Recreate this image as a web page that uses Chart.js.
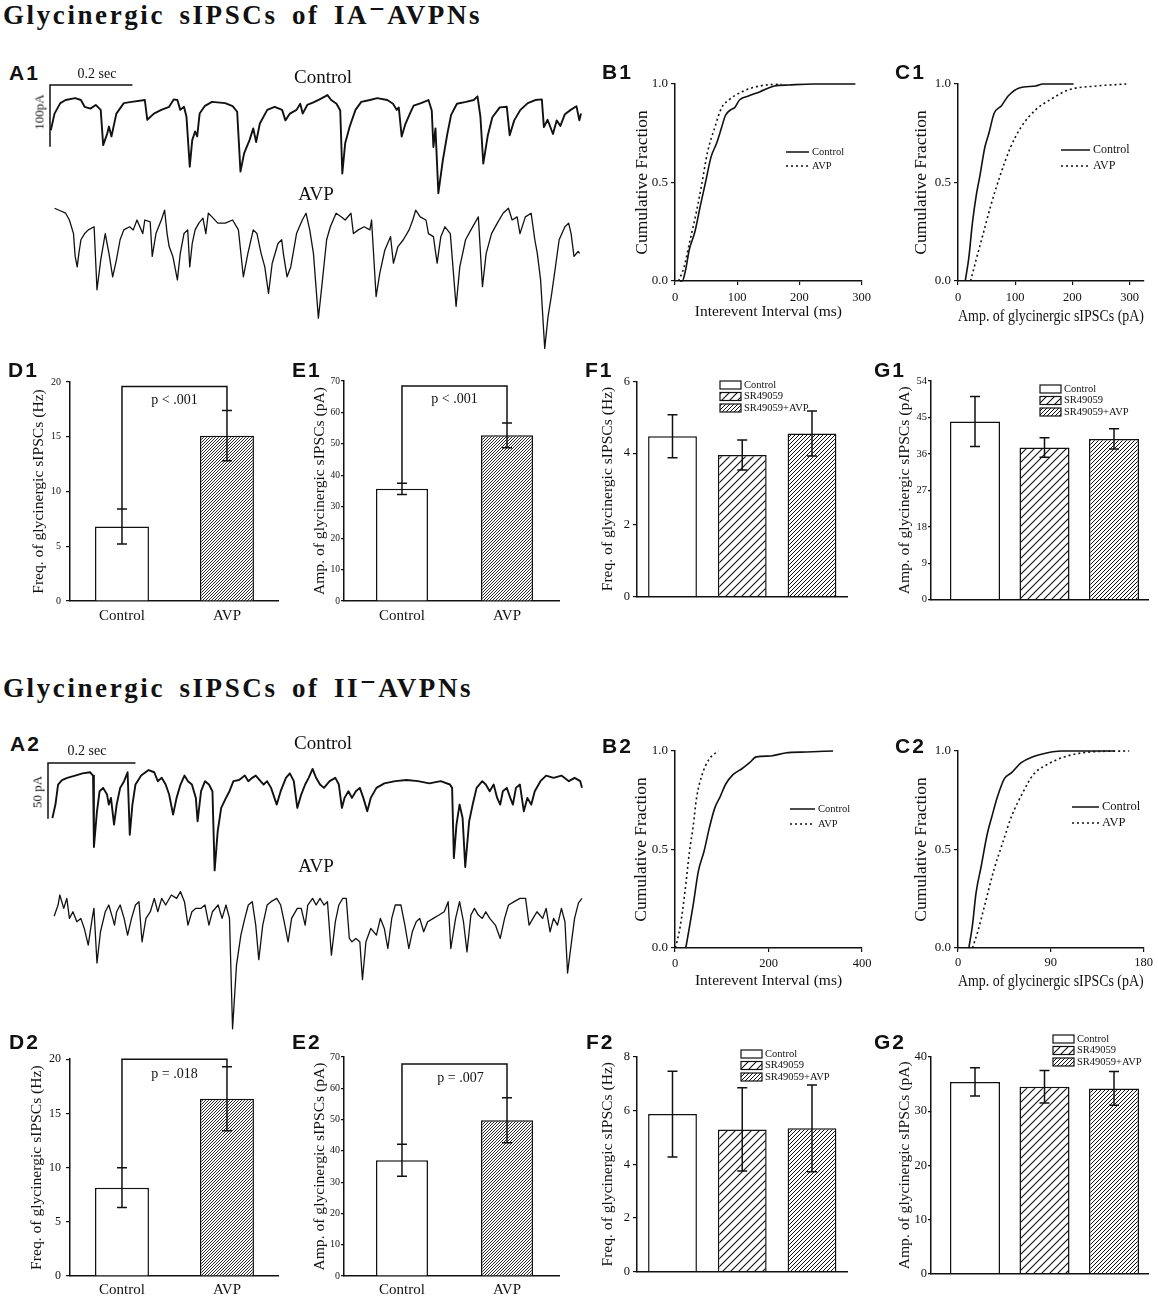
<!DOCTYPE html>
<html>
<head>
<meta charset="utf-8">
<script src="https://cdn.jsdelivr.net/npm/chart.js@4.4.1/dist/chart.umd.min.js"></script>
<style>
  body { margin: 0; background: #fff; }
  #fig { position: relative; width: 1158px; height: 1300px; overflow: hidden; color: #111;
         font-family: "Liberation Serif", "Times New Roman", serif; }
  #fig canvas { position: absolute; }
  .t { position: absolute; white-space: nowrap; line-height: 1; }
  .head { font-weight: bold; font-size: 27px; letter-spacing: 2.6px; word-spacing: 5px; }
  .head span { position: relative; top: -6px; }
  .tag { font-family: "Liberation Sans", Arial, sans-serif; font-weight: bold; font-size: 21px; letter-spacing: 2px; }
</style>
</head>
<body>
<div id="fig"></div>
<script>
// Trace samples (ms, pA)
const a1CtrlT = [0,9,23,36,59,73,82,96,109,121,127,137,141,147,159,177,196,228,234,250,268,287,298,307,314,323,329,337,343,350,355,361,373,391,423,441,452,460,469,482,491,498,507,525,543,561,569,580,596,605,611,622,637,652,671,680,693,702,707,714,725,739,753,774,792,816,830,839,844,851,860,871,880,898,916,924,928,933,940,951,962,971,985,1007,1026,1035,1042,1049,1060,1071,1089,1106,1113,1124,1139,1157,1175,1191,1196,1205,1218,1227,1236,1247,1261,1275,1282,1286]
const a1CtrlI = [-49,-22,-5,0,3,0,-11,-14,-8,-16,-73,-54,-43,-59,-22,-5,-3,0,-32,-22,-16,-11,1,0,-16,-11,-27,-108,-65,-51,-59,-22,-10,-3,-5,-10,-19,-116,-86,-65,-46,-68,-38,-16,-11,-16,-33,-22,-16,-6,-22,-8,-4,1,8,0,-6,-17,-119,-70,-43,-16,-3,0,3,0,-6,-16,-12,-59,-39,-22,-9,-5,0,-17,-76,-46,-151,-97,-54,-24,-6,-3,0,6,-27,-103,-57,-28,-12,-11,-57,-33,-16,-5,0,1,-44,-32,-55,-33,-42,-23,-16,-10,-33,-22]
const a1AvpT = [9,23,36,45,55,59,64,68,73,82,91,105,112,121,132,141,150,159,168,177,191,200,209,223,228,241,246,255,268,276,282,287,296,307,314,323,332,337,343,350,359,369,376,382,391,405,423,441,455,467,478,491,500,510,519,528,537,551,560,564,573,582,596,610,619,628,637,649,658,669,678,692,705,714,728,734,746,760,774,778,789,798,810,824,831,842,855,869,878,885,896,910,916,928,937,946,956,969,983,992,1006,1019,1037,1047,1056,1069,1083,1097,1110,1119,1131,1138,1151,1165,1174,1180,1188,1198,1206,1215,1224,1233,1247,1256,1262,1269,1279,1283]
const a1AvpI = [0,-4,-8,-19,-41,-78,-95,-73,-51,-41,-35,-30,-132,-84,-41,-73,-111,-84,-51,-35,-30,-35,-19,-41,-19,-22,-78,-41,-19,-3,-41,-62,-78,-116,-73,-41,-35,-95,-57,-35,-24,-16,-41,-8,-14,-24,-24,-19,-35,-111,-73,-35,-41,-73,-95,-138,-89,-57,-51,-73,-111,-95,-41,-19,-8,-35,-73,-178,-122,-51,-30,-8,-14,-19,-8,-41,-35,-30,-35,-19,-143,-105,-68,-46,-89,-62,-51,-35,-19,-3,-14,-19,-41,-46,-89,-46,-30,-41,-159,-95,-51,-35,-14,-127,-73,-41,-24,-8,0,-19,-14,-41,-14,-8,-51,-73,-116,-227,-176,-138,-95,-51,-30,-24,-41,-78,-70,-73]
const a2CtrlT = [0,7,13,22,34,52,69,86,93,95,102,108,116,125,129,134,141,147,155,164,172,177,183,190,203,220,233,241,250,259,267,276,284,293,302,310,319,328,332,340,349,358,366,371,378,386,397,405,414,427,440,448,457,465,474,483,491,500,513,522,534,543,552,560,569,578,586,595,603,612,621,634,647,655,662,668,677,685,694,703,711,720,728,741,759,784,810,836,862,888,909,914,918,924,931,938,944,953,961,970,983,991,1000,1009,1017,1024,1030,1039,1047,1053,1060,1069,1078,1086,1095,1103,1116,1129,1146,1164,1181,1194,1207,1211]
const a2CtrlI = [-37,-25,-7,-3,-1,1,3,4,1,-63,-31,-13,-10,-16,-25,-19,-43,-25,-10,-4,4,-52,-25,-7,1,6,4,-4,-1,-7,-16,-34,-19,-7,1,-4,-7,-19,-40,-13,-4,-7,-13,-84,-49,-28,-19,-13,-4,-3,1,-4,-1,1,-3,-7,-4,-10,-25,-13,-1,3,-4,-28,-16,-7,-1,7,-1,-7,-10,-4,-1,-7,-28,-19,-13,-19,-13,-10,-19,-31,-19,-10,-6,-4,-3,-4,-6,-4,-7,-10,-73,-43,-25,-37,-81,-40,-25,-10,-4,-7,-13,-7,-19,-25,-13,-10,-19,-25,-10,-7,-31,-19,-25,-13,-4,1,-1,1,-4,-1,-4,-10]
const a2AvpT = [4,13,17,26,33,39,47,56,65,73,82,91,95,102,110,121,129,138,142,147,155,164,172,181,190,198,205,214,224,233,241,250,259,272,284,293,302,310,319,328,340,349,358,366,379,388,397,405,412,421,431,440,448,457,465,472,481,491,500,513,522,530,539,547,560,569,578,584,595,603,612,621,629,638,647,655,664,672,679,685,694,703,709,717,728,741,750,759,767,776,784,797,806,815,823,832,840,849,858,871,884,896,905,911,922,931,940,948,957,965,974,983,991,1000,1013,1024,1034,1043,1056,1069,1082,1090,1099,1108,1121,1129,1138,1146,1155,1164,1172,1178,1187,1194,1203,1211]
const a2AvpI = [-16,-6,3,-9,0,-18,-12,-21,-18,-27,-42,-18,-9,-58,-30,-12,-6,-18,-24,-12,-6,-18,-33,-18,-6,-3,-39,-18,-12,0,-12,0,-6,3,0,6,-3,-24,-12,-9,-9,-6,-24,-12,-6,-18,-6,-18,-117,-60,-33,-18,-6,-3,-24,-55,-24,-6,-3,0,-6,-21,-39,-18,-9,-9,-24,-6,0,-6,0,-6,-3,-51,-21,-6,0,0,-36,-39,-36,-39,-73,-39,-27,-33,-18,-27,-45,-18,-6,-6,-24,-45,-30,-21,-18,-30,-21,-18,-15,-12,-3,-45,-18,-3,-21,-48,-15,-9,-15,-18,-12,-18,-24,-36,-18,-6,-3,0,0,-24,-18,-12,-18,-9,-30,-18,-24,-9,-21,-67,-39,-18,-4,0]

// Cumulative distributions (x value, fraction)
const b1CtrlX = [8,11.6,17,23,32,40.6,49,58,67,75,81,90,96,104,119,136,160,183,223,290]
const b1CtrlY = [0,0,0.056,0.16,0.25,0.38,0.5,0.63,0.7,0.78,0.84,0.87,0.88,0.92,0.94,0.96,0.99,0.995,1,1]
const b1AvpX = [5.8,14.5,23,35,43.5,52,64,75,87,107,136,171]
const b1AvpY = [0,0.07,0.19,0.36,0.5,0.65,0.78,0.88,0.92,0.96,0.99,1]
const c1CtrlX = [12.6,19,25,31.6,38,47,54,63,76,88,107,136,148,202]
const c1CtrlY = [0,0.12,0.29,0.43,0.53,0.68,0.75,0.85,0.89,0.94,0.98,0.99,1,1]
const c1AvpX = [22,31.6,44,57,73,92,110,136,161,193,243,294]
const c1AvpY = [0,0.107,0.24,0.38,0.53,0.68,0.78,0.87,0.92,0.97,0.99,1]
const b2CtrlX = [23,29,39,50,62,73.5,85,97,108,124,143,159,174,205,236,282,338]
const b2CtrlY = [0,0.08,0.22,0.39,0.49,0.61,0.71,0.77,0.83,0.88,0.91,0.94,0.97,0.975,0.99,0.995,1]
const b2AvpX = [1,4,11.6,21,31,39,46,58,73.5,93]
const b2AvpY = [0,0.03,0.115,0.28,0.49,0.62,0.76,0.88,0.96,1]
const c2CtrlX = [10.5,14,17.5,22.7,28,33,38.4,45,52,61,72,86,100,152]
const c2CtrlY = [0,0.115,0.28,0.42,0.57,0.67,0.77,0.86,0.89,0.94,0.97,0.99,1,1]
const c2AvpX = [14,19,26,35,43.7,52,63,73,86,103,128,166]
const c2AvpY = [0,0.08,0.22,0.4,0.54,0.67,0.79,0.88,0.93,0.97,0.995,1]

// Bar means and SEM
const groups2 = ["Control", "AVP"]
const groups3 = ["Control", "SR49059", "SR49059+AVP"]
const d1Mean = [6.8, 15.1], d1Err = [1.6, 2.3]
const e1Mean = [35.7, 52.7], e1Err = [1.8, 3.9]
const f1Mean = [4.47, 3.95, 4.55], f1Err = [0.6, 0.42, 0.63]
const g1Mean = [44.0, 37.6, 39.7], g1Err = [6.2, 2.4, 2.5]
const d2Mean = [8.15, 16.35], d2Err = [1.83, 2.95]
const e2Mean = [37.0, 49.8], e2Err = [5.1, 7.2]
const f2Mean = [5.87, 5.3, 5.34], f2Err = [1.6, 1.55, 1.62]
const g2Mean = [35.4, 34.5, 34.2], g2Err = [2.6, 3.0, 3.1]
const pText = ["p < .001", "p < .001", "p = .018", "p = .007"]

// Tick labels
const cumTicks = [0, 0.5, 1]
const b1Ticks = [0, 100, 200, 300], c1Ticks = [0, 100, 200, 300]
const b2Ticks = [0, 200, 400], c2Ticks = [0, 90, 180]
const d1Ticks = [0, 5, 10, 15, 20], e1Ticks = [0, 10, 20, 30, 40, 50, 60, 70]
const f1Ticks = [0, 2, 4, 6], g1Ticks = [0, 9, 18, 27, 36, 45, 54]
const d2Ticks = [0, 5, 10, 15, 20], e2Ticks = [0, 10, 20, 30, 40, 50, 60, 70]
const f2Ticks = [0, 2, 4, 6, 8], g2Ticks = [0, 10, 20, 30, 40]

const INK = "#111"
const fig = document.getElementById("fig")
Chart.defaults.font.family = '"Liberation Serif", "Times New Roman", serif'
Chart.defaults.color = INK
Chart.defaults.animation = false
Chart.defaults.responsive = false
Chart.defaults.plugins.legend.display = false
Chart.defaults.plugins.tooltip.enabled = false

const pts = (xs, ys) => xs.map((x, i) => ({ x, y: ys[i] }))
const useTicks = (list) => (s) => { s.ticks = list.map((value) => ({ value })) }
const local = (chart, x, y) => [x - parseFloat(chart.canvas.style.left), y - parseFloat(chart.canvas.style.top)]

function hatch(step, lw) {
  const t = document.createElement("canvas")
  t.width = t.height = step
  const g = t.getContext("2d")
  g.fillStyle = "#fff"
  g.fillRect(0, 0, step, step)
  g.strokeStyle = INK
  g.lineWidth = lw
  g.beginPath()
  g.moveTo(0, step); g.lineTo(step, 0)
  g.moveTo(-step / 2, step / 2); g.lineTo(step / 2, -step / 2)
  g.moveTo(step / 2, step * 1.5); g.lineTo(step * 1.5, step / 2)
  g.stroke()
  return g.createPattern(t, "repeat")
}
const dense = hatch(3, 0.9), sparse = hatch(8, 1.1), medium = hatch(4, 1)

// Error bars on bar charts
Chart.register({
  id: "errorBars",
  afterDatasetsDraw(chart, args, o) {
    if (!o.values) return
    const { ctx } = chart, y = chart.scales.y
    ctx.save()
    ctx.strokeStyle = INK
    ctx.lineWidth = 1.5
    chart.getDatasetMeta(0).data.forEach((bar, i) => {
      const v = chart.data.datasets[0].data[i].y
      const hi = y.getPixelForValue(v + o.values[i]), lo = y.getPixelForValue(v - o.values[i])
      ctx.beginPath()
      ctx.moveTo(bar.x, hi); ctx.lineTo(bar.x, lo)
      ctx.moveTo(bar.x - 5, hi); ctx.lineTo(bar.x + 5, hi)
      ctx.moveTo(bar.x - 5, lo); ctx.lineTo(bar.x + 5, lo)
      ctx.stroke()
    })
    ctx.restore()
  },
})

// Significance bracket
Chart.register({
  id: "bracket",
  afterDatasetsDraw(chart, args, o) {
    if (!o.text) return
    const { ctx } = chart, x = chart.scales.x, y = chart.scales.y
    const x1 = x.getPixelForValue(1), x2 = x.getPixelForValue(2), yt = y.getPixelForValue(o.top)
    ctx.save()
    ctx.strokeStyle = INK
    ctx.lineWidth = 1.5
    ctx.beginPath()
    ctx.moveTo(x1, y.getPixelForValue(o.left))
    ctx.lineTo(x1, yt); ctx.lineTo(x2, yt)
    ctx.lineTo(x2, y.getPixelForValue(o.right))
    ctx.stroke()
    ctx.fillStyle = INK
    ctx.font = '14px "Liberation Serif", serif'
    ctx.textAlign = "center"
    ctx.textBaseline = "middle"
    ctx.fillText(o.text, (x1 + x2) / 2 + (o.dx || 0), yt + o.dy)
    ctx.restore()
  },
})

// Keys for line charts
Chart.register({
  id: "lineKey",
  afterDraw(chart, args, o) {
    if (!o.at) return
    const { ctx } = chart
    const [x, y] = local(chart, o.at[0], o.at[1])
    chart.data.datasets.forEach((ds, i) => {
      const yy = y + i * o.dy
      ctx.save()
      ctx.strokeStyle = INK
      ctx.lineWidth = 1.5
      ctx.setLineDash(ds.borderDash || [])
      ctx.beginPath(); ctx.moveTo(x, yy); ctx.lineTo(x + o.len, yy); ctx.stroke()
      ctx.setLineDash([])
      ctx.fillStyle = INK
      ctx.font = o.size + 'px "Liberation Serif", serif'
      ctx.textBaseline = "middle"
      ctx.fillText(ds.label, x + o.len + 3, yy)
      ctx.restore()
    })
  },
})

// Keys for the three-group bar charts
Chart.register({
  id: "boxKey",
  afterDraw(chart, args, o) {
    if (!o.at) return
    const { ctx } = chart, ds = chart.data.datasets[0]
    const [x, y] = local(chart, o.at[0], o.at[1])
    o.labels.forEach((lab, i) => {
      const yy = y + i * 11.5
      ctx.save()
      ctx.fillStyle = ds.backgroundColor[i]
      ctx.fillRect(x, yy - 4, 21, 8)
      ctx.strokeStyle = INK
      ctx.lineWidth = 1.2
      ctx.strokeRect(x, yy - 4, 21, 8)
      ctx.fillStyle = INK
      ctx.font = '10.5px "Liberation Serif", serif'
      ctx.textBaseline = "middle"
      ctx.fillText(lab, x + 24, yy)
      ctx.restore()
    })
  },
})

// Scale bar on traces
Chart.register({
  id: "scaleBar",
  afterDraw(chart, args, o) {
    if (!o.ms) return
    const { ctx } = chart, x = chart.scales.x, y = chart.scales.y
    const x0 = x.getPixelForValue(x.min), x1 = x.getPixelForValue(x.min + o.ms)
    const y0 = y.getPixelForValue(y.max), y1 = y.getPixelForValue(y.max - o.pA)
    ctx.save()
    ctx.strokeStyle = INK
    ctx.lineWidth = 1.5
    ctx.beginPath(); ctx.moveTo(x1, y0); ctx.lineTo(x0, y0); ctx.lineTo(x0, y1); ctx.stroke()
    ctx.restore()
  },
})

function panel(box, m, config) {
  const c = document.createElement("canvas")
  const w = box[2] - box[0] + m[0] + m[2], h = box[3] - box[1] + m[1] + m[3]
  c.width = w
  c.height = h
  c.style.left = box[0] - m[0] + "px"
  c.style.top = box[1] - m[1] + "px"
  c.style.width = w + "px"
  c.style.height = h + "px"
  fig.appendChild(c)
  return new Chart(c, config)
}

const axisLine = { display: true, color: INK, width: 1.5 }
const tickMarks = (len) => ({ drawOnChartArea: false, drawTicks: true, tickLength: len, color: INK, lineWidth: 1.2 })

function traceChart(box, o) {
  const m = [8, 8, 8, 8]
  const line = { borderColor: INK, pointRadius: 0, tension: 0, borderJoinStyle: "round", clip: false }
  return panel(box, m, {
    type: "line",
    data: { datasets: [
      { ...line, data: pts(o.ct, o.ci), yAxisID: "y", borderWidth: 1.9 },
      { ...line, data: pts(o.at, o.ai), yAxisID: "y2", borderWidth: 1.3 },
    ] },
    options: {
      layout: { padding: { left: m[0], top: m[1], right: m[2], bottom: m[3] } },
      scales: {
        x: { type: "linear", display: false, min: o.t[0], max: o.t[1] },
        y: { type: "linear", display: false, min: o.c[0], max: o.c[1] },
        y2: { type: "linear", display: false, min: o.a[0], max: o.a[1] },
      },
      plugins: { scaleBar: { ms: 200, pA: o.barPA } },
    },
  })
}

function cumChart(box, m, o) {
  const line = { borderColor: INK, borderWidth: 1.6, pointRadius: 0, cubicInterpolationMode: "monotone", clip: false }
  return panel(box, m, {
    type: "line",
    data: { datasets: [
      { ...line, label: "Control", data: pts(o.cx, o.cy) },
      { ...line, label: "AVP", data: pts(o.ax, o.ay), borderDash: [2, 3] },
    ] },
    options: {
      layout: { padding: { top: m[1], right: m[2], left: 0, bottom: 0 } },
      scales: {
        x: { type: "linear", min: 0, max: o.xmax, afterBuildTicks: useTicks(o.xticks),
             ticks: { font: { size: 12.5 }, padding: o.xpad, maxRotation: 0 },
             grid: tickMarks(4), border: axisLine,
             title: { display: true, text: o.xtitle, font: { size: o.xsize }, padding: 0 },
             afterFit: (s) => { s.height = m[3] } },
        y: { min: 0, max: 1, afterBuildTicks: useTicks(cumTicks),
             ticks: { font: { size: 13 }, padding: 3, callback: (v) => v.toFixed(1) },
             grid: tickMarks(4), border: axisLine,
             title: { display: true, text: "Cumulative Fraction", font: { size: 17.5 }, padding: 0 },
             afterFit: (s) => { s.width = m[0] } },
      },
      plugins: { lineKey: o.key },
    },
  })
}

function barChart(box, m, o) {
  return panel(box, m, {
    type: "bar",
    data: { datasets: [{
      data: o.values.map((y, i) => ({ x: i + 1, y })),
      backgroundColor: o.fills, borderColor: INK, borderWidth: 1.5,
      barPercentage: o.pct, categoryPercentage: 1,
    }] },
    options: {
      layout: { padding: { top: m[1], right: m[2], left: 0, bottom: 0 } },
      scales: {
        x: { type: "linear", min: o.x[0], max: o.x[1], offset: false,
             afterBuildTicks: useTicks(o.values.map((v, i) => i + 1)),
             grid: { display: false, drawTicks: false, offset: false }, border: axisLine,
             ticks: o.labels
               ? { display: true, font: { size: 15 }, padding: o.xpad, maxRotation: 0, callback: (v) => o.labels[v - 1] }
               : { display: false },
             afterFit: (s) => { s.height = m[3] } },
        y: { min: 0, max: o.ticks[o.ticks.length - 1], afterBuildTicks: useTicks(o.ticks),
             ticks: { font: { size: o.tf }, padding: o.tp },
             grid: tickMarks(o.tl), border: axisLine,
             title: { display: true, text: o.title, font: { size: 15.6 }, padding: 0 },
             afterFit: (s) => { s.width = m[0] } },
      },
      plugins: { errorBars: { values: o.errors }, bracket: o.bracket || {}, boxKey: o.key || {} },
    },
  })
}

// ---- Traces ----
traceChart([50, 85, 581, 355], {
  ct: a1CtrlT, ci: a1CtrlI, at: a1AvpT, ai: a1AvpI,
  t: [-2, 1286], c: [-413, 24.3], a: [-237.7, 199.7], barPA: 100,
})
traceChart([48, 763, 582, 1035], {
  ct: a2CtrlT, ci: a2CtrlI, at: a2AvpT, ai: a2AvpI,
  t: [-10, 1211], c: [-231.7, 12.3], a: [-122.6, 121.4], barPA: 50,
})

const freqTitle = "Freq. of glycinergic sIPSCs (Hz)"
const ampTitle = "Amp. of glycinergic sIPSCs (pA)"

// ---- Cumulative fractions ----
cumChart([675, 84, 862, 281], [43, 12, 14, 40], {
  cx: b1CtrlX, cy: b1CtrlY, ax: b1AvpX, ay: b1AvpY, xmax: 300, xticks: b1Ticks, xpad: 5,
  xtitle: "Interevent Interval (ms)", xsize: 15.5, key: { at: [786, 152], dy: 14, len: 23, size: 10.5 },
})
cumChart([958, 84, 1144, 281], [47, 12, 12, 46], {
  cx: c1CtrlX, cy: c1CtrlY, ax: c1AvpX, ay: c1AvpY, xmax: 325, xticks: c1Ticks, xpad: 5,
  xtitle: ampTitle, xsize: 17.5, key: { at: [1061, 150], dy: 16, len: 29, size: 12 },
})
cumChart([675, 751, 862, 948], [44, 12, 14, 42], {
  cx: b2CtrlX, cy: b2CtrlY, ax: b2AvpX, ay: b2AvpY, xmax: 400, xticks: b2Ticks, xpad: 4,
  xtitle: "Interevent Interval (ms)", xsize: 15.5, key: { at: [790, 809], dy: 15, len: 25, size: 10.5 },
})
cumChart([958, 751, 1144, 948], [47, 12, 12, 44], {
  cx: c2CtrlX, cy: c2CtrlY, ax: c2AvpX, ay: c2AvpY, xmax: 180, xticks: c2Ticks, xpad: 3,
  xtitle: ampTitle, xsize: 17.3, key: { at: [1072, 807], dy: 16, len: 27, size: 12.5 },
})

// ---- Bar charts ----
const two = ["#fff", dense]
const three = ["#fff", sparse, medium]

barChart([70, 381, 278, 601], [40, 10, 8, 30], {
  values: d1Mean, errors: d1Err, fills: two, x: [0.505, 2.486], pct: 0.514, labels: groups2, xpad: 6,
  ticks: d1Ticks, tf: 10, tp: 5, tl: 4, title: freqTitle,
  bracket: { top: 19.6, left: d1Mean[0] + d1Err[0], right: d1Mean[1] + d1Err[1], text: pText[0], dy: 14 },
})
barChart([344, 381, 559, 601], [33, 10, 8, 30], {
  values: e1Mean, errors: e1Err, fills: two, x: [0.448, 2.495], pct: 0.495, labels: groups2, xpad: 6,
  ticks: e1Ticks, tf: 9.5, tp: 1, tl: 3, title: ampTitle,
  bracket: { top: 68.4, left: e1Mean[0] + e1Err[0], right: e1Mean[1] + e1Err[1], text: pText[1], dy: 13 },
})
barChart([637, 381, 847, 601], [38, 10, 8, 6], {
  values: f1Mean, errors: f1Err, fills: three, x: [0.491, 3.502], pct: 0.7,
  ticks: f1Ticks, tf: 12.5, tp: 3, tl: 4, title: freqTitle,
  key: { at: [720, 385], labels: groups3 },
})
barChart([931, 381, 1148, 601], [35, 10, 6, 6], {
  values: g1Mean, errors: g1Err, fills: three, x: [0.367, 3.489], pct: 0.72,
  ticks: g1Ticks, tf: 10.5, tp: 1, tl: 3, title: ampTitle,
  key: { at: [1040, 389], labels: groups3 },
})
barChart([70, 1057, 278, 1276], [42, 10, 8, 23], {
  values: d2Mean, errors: d2Err, fills: two, x: [0.505, 2.486], pct: 0.514, labels: groups2, xpad: 5,
  ticks: d2Ticks, tf: 12, tp: 5, tl: 4, title: freqTitle,
  bracket: { top: 20, left: d2Mean[0] + d2Err[0], right: d2Mean[1] + d2Err[1], text: pText[2], dy: 15 },
})
barChart([344, 1057, 559, 1276], [33, 10, 8, 23], {
  values: e2Mean, errors: e2Err, fills: two, x: [0.448, 2.495], pct: 0.495, labels: groups2, xpad: 5,
  ticks: e2Ticks, tf: 10, tp: 1, tl: 3, title: ampTitle,
  bracket: { top: 67.8, left: e2Mean[0] + e2Err[0], right: e2Mean[1] + e2Err[1], text: pText[3], dy: 14, dx: 6 },
})
barChart([637, 1057, 847, 1276], [38, 14, 8, 6], {
  values: f2Mean, errors: f2Err, fills: three, x: [0.491, 3.502], pct: 0.7,
  ticks: f2Ticks, tf: 12.5, tp: 3, tl: 4, title: freqTitle,
  key: { at: [741, 1054], labels: groups3 },
})
barChart([931, 1057, 1148, 1276], [35, 30, 6, 6], {
  values: g2Mean, errors: g2Err, fills: three, x: [0.367, 3.489], pct: 0.72,
  ticks: g2Ticks, tf: 12.5, tp: 1, tl: 3, title: ampTitle,
  key: { at: [1053, 1039], labels: groups3 },
})

// ---- Text ----
function text(html, x, y, cls, css, anchor) {
  const d = document.createElement("div")
  d.className = "t " + (cls || "")
  d.innerHTML = html
  d.style.left = x + "px"
  d.style.top = y + "px"
  d.style.transform = anchor === "c" ? "translate(-50%,-50%)"
    : anchor === "r" ? "translate(-50%,-50%) rotate(-90deg)" : "translateY(-50%)"
  if (css) d.style.cssText += css
  fig.appendChild(d)
}
text("Glycinergic sIPSCs of IA<span>−</span>AVPNs", 3, 15, "head")
text("Glycinergic sIPSCs of II<span>−</span>AVPNs", 3, 688, "head")

const tags = [
  ["A1", 9, 72], ["B1", 602, 71], ["C1", 895, 71],
  ["D1", 8, 369], ["E1", 292, 369], ["F1", 585, 369], ["G1", 874, 369],
  ["A2", 10, 743], ["B2", 602, 745], ["C2", 895, 745],
  ["D2", 9, 1041], ["E2", 292, 1041], ["F2", 586, 1041], ["G2", 874, 1041],
]
tags.forEach(([s, x, y]) => text(s, x, y, "tag"))

text("Control", 323, 76, "", "font-size:19px", "c")
text("AVP", 316, 193, "", "font-size:19px", "c")
text("0.2 sec", 97, 74, "", "font-size:14px", "c")
text("100pA", 39, 112, "", "font-size:13px", "r")
text("Control", 323, 742, "", "font-size:19px", "c")
text("AVP", 316, 865, "", "font-size:19px", "c")
text("0.2 sec", 87, 751, "", "font-size:14px", "c")
text("50 pA", 37, 792, "", "font-size:13px", "r")
</script>
</body>
</html>
